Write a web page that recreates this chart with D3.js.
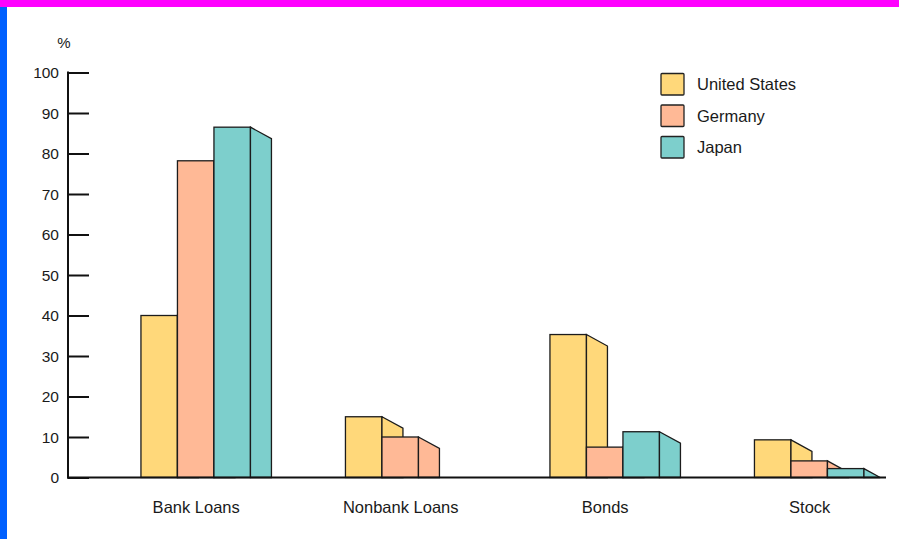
<!DOCTYPE html>
<html>
<head>
<meta charset="utf-8">
<script src="https://cdn.jsdelivr.net/npm/d3@7"></script>
<style>
  html, body { margin: 0; padding: 0; background: #fff; }
  svg { display: block; }
  text { font-family: "Liberation Sans", Arial, Helvetica, sans-serif; fill: #1a1a1a; }
</style>
</head>
<body>
<svg id="chart" width="899" height="539"></svg>
<script>
// ---- data ----
const categories = ["Bank Loans", "Nonbank Loans", "Bonds", "Stock"];
const seriesNames = ["United States", "Germany", "Japan"];
const unitedStates = [40, 15, 35.3, 9.3];
const germany = [78.2, 10, 7.5, 4.1];
const japan = [86.5, 0, 11.3, 2.2];
const yTicks = [0, 10, 20, 30, 40, 50, 60, 70, 80, 90, 100];
const colors = ["#FFD87A", "#FFB996", "#7DCFCC"];

const seriesValues = [unitedStates, germany, japan];

const svg = d3.select("#chart");
const W = 899, H = 539;

// frame
svg.append("rect").attr("x", 0).attr("y", 0).attr("width", W).attr("height", 7).attr("fill", "#FF00FF");
svg.append("rect").attr("x", 0).attr("y", 7).attr("width", 7).attr("height", H - 7).attr("fill", "#0060FF");

const axisX = 68;
const y = d3.scaleLinear().domain([0, 100]).range([477.5, 72.5]);
const x = d3.scalePoint().domain(categories).range([195.7, 809.2]);
const barW = 36.5;
const xs = d3.scaleBand().domain(seriesNames).range([-1.5 * barW, 1.5 * barW]).padding(0);
const sideW = 21;
const sideDy = 11.5;
const base = y(0);

// y axis
const axisG = svg.append("g").attr("transform", `translate(${axisX},0)`);
const yAxis = d3.axisRight(y).tickValues(yTicks).tickSize(21).tickFormat("");
axisG.call(yAxis);
axisG.select(".domain").remove();
axisG.selectAll(".tick line").attr("stroke", "#111").attr("stroke-width", 2);
axisG.append("line").attr("x1", 0).attr("x2", 0).attr("y1", y(100) - 1).attr("y2", base + 1)
  .attr("stroke", "#111").attr("stroke-width", 2);

svg.append("g").selectAll("text").data(yTicks).join("text")
  .attr("x", 59).attr("y", d => y(d) + 5.5)
  .attr("text-anchor", "end").attr("font-size", 15.5).text(d => d);

svg.append("text").attr("x", 64).attr("y", 48).attr("text-anchor", "middle").attr("font-size", 15).text("%");

// bars
const barsG = svg.append("g");
categories.forEach((cat, ci) => {
  seriesNames.forEach((s, si) => {
    const v = seriesValues[si][ci];
    if (!(v > 0)) return;
    const x0 = x(cat) + xs(s);
    const x1 = x0 + barW;
    const yt = y(v);
    const g = barsG.append("g");
    g.append("rect").attr("x", x0).attr("y", yt).attr("width", barW).attr("height", base - yt)
      .attr("fill", colors[si]).attr("stroke", "#1c1c1c").attr("stroke-width", 1.3);
    let pts;
    if (yt + sideDy <= base) {
      pts = [[x1, yt], [x1 + sideW, yt + sideDy], [x1 + sideW, base], [x1, base]];
    } else {
      const w = sideW * (base - yt) / sideDy;
      pts = [[x1, yt], [x1 + w, base], [x1, base]];
    }
    g.append("polygon").attr("points", pts.map(p => p.join(",")).join(" "))
      .attr("fill", colors[si]).attr("stroke", "#1c1c1c").attr("stroke-width", 1.3).attr("stroke-linejoin", "miter");
  });
});

// baseline
svg.append("line").attr("x1", axisX - 1).attr("x2", 886).attr("y1", base).attr("y2", base)
  .attr("stroke", "#111").attr("stroke-width", 2);

// category labels
const xAxis = d3.axisBottom(x).tickSize(0).tickPadding(0);
const xg = svg.append("g").attr("transform", `translate(0,${base + 30})`).call(xAxis);
xg.select(".domain").remove();
xg.selectAll("text").attr("font-size", 16.5).attr("dy", "0.35em")
  .style("font-family", '"Liberation Sans", Arial, sans-serif').attr("fill", "#1a1a1a");

// legend
const lg = svg.append("g");
seriesNames.forEach((s, i) => {
  const ly = 73.5 + i * 31.5;
  lg.append("rect").attr("x", 661).attr("y", ly).attr("width", 23).attr("height", 21.5).attr("rx", 1)
    .attr("fill", colors[i]).attr("stroke", "#222").attr("stroke-width", 1.3);
  lg.append("text").attr("x", 697).attr("y", ly + 16.5).attr("font-size", 16.5).text(s);
});
</script>
</body>
</html>
